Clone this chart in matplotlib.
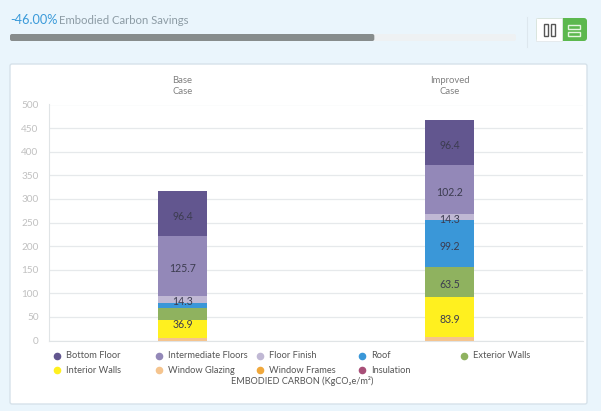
import matplotlib
matplotlib.use("Agg")
import matplotlib.pyplot as plt
from matplotlib.patches import Rectangle, FancyBboxPatch

plt.rcParams["font.family"] = ["Lato", "DejaVu Sans"]

W, H = 601, 411

cases = ["Base\nCase", "Improved\nCase"]
materials = ["Window Glazing", "Window Frames", "Insulation", "Interior Walls", "Exterior Walls",
             "Roof", "Floor Finish", "Intermediate Floors", "Bottom Floor"]
base_values = [6, 0, 0, 36.9, 25.5, 12, 14.3, 125.7, 96.4]
improved_values = [8, 0, 0, 83.9, 63.5, 99.2, 14.3, 102.2, 96.4]
base_labels = [None, None, None, "36.9", None, None, "14.3", "125.7", "96.4"]
improved_labels = [None, None, None, "83.9", "63.5", "99.2", "14.3", "102.2", "96.4"]
colors = {
    "Bottom Floor": "#62568f",
    "Intermediate Floors": "#9388b8",
    "Floor Finish": "#c0b8d4",
    "Roof": "#3a97d8",
    "Exterior Walls": "#8fb25f",
    "Interior Walls": "#fff01f",
    "Window Glazing": "#f5c48e",
    "Window Frames": "#f0a83c",
    "Insulation": "#a84f78",
}
legend_order = ["Bottom Floor", "Intermediate Floors", "Floor Finish", "Roof", "Exterior Walls",
                "Interior Walls", "Window Glazing", "Window Frames", "Insulation"]
y_ticks = [0, 50, 100, 150, 200, 250, 300, 350, 400, 450, 500]
savings_text = "-46.00%"
savings_fill = 0.72

fig = plt.figure(figsize=(W / 100, H / 100), dpi=100, facecolor="#eaf5fc")

# page furniture, in pixel coordinates
bg = fig.add_axes([0, 0, 1, 1])
bg.set_xlim(0, W)
bg.set_ylim(H, 0)
bg.axis("off")


def rounded(x, y, w, h, r=2, **kw):
    bg.add_patch(FancyBboxPatch((x, y), w, h, boxstyle=f"round,pad=0,rounding_size={r}", **kw))


rounded(10, 64, 577, 340, fc="white", ec="#d6e2ea", lw=1)
bg.text(10, 20.5, savings_text, color="#3a9ad9", fontsize=9.2, va="center")
bg.text(59, 21, "Embodied Carbon Savings", color="#8d9ca5", fontsize=8.2, va="center")
rounded(10, 34, 506, 7, fc="#eef1f3", ec="none")
rounded(10, 34, 506 * savings_fill, 7, fc="#878c8c", ec="none")
bg.plot([526.5, 526.5], [17, 47], color="#dde7ee", lw=0.8)

# view toggle
rounded(536, 18, 51, 23, r=3, fc="#5cb84e", ec="none")
bg.add_patch(Rectangle((536, 18), 26, 23, fc="white", ec="#e3e8ea", lw=0.6))
for x in (543.5, 550.5):
    bg.add_patch(Rectangle((x, 24.5), 4.5, 12, fc="none", ec="#555555", lw=1))
for y in (25, 32):
    bg.add_patch(Rectangle((568, y), 12, 4, fc="none", ec="#e4f5df", lw=1))

# chart
ax = fig.add_axes([49 / W, 1 - 340.5 / H, (583 - 49) / W, (340.5 - 104.5) / H])
ax.set_facecolor("none")
bottoms = [0, 0]
for i, name in enumerate(materials):
    vals = [base_values[i], improved_values[i]]
    labs = [base_labels[i], improved_labels[i]]
    ax.bar([0, 1], vals, width=0.183, bottom=bottoms, color=colors[name], zorder=3)
    for j in range(2):
        if labs[j]:
            # the 36.9 label sits high in its segment in the original
            dy = 3 if labs[j] == "36.9" else -2
            ax.annotate(labs[j], (j, bottoms[j] + vals[j] / 2), xytext=(0, dy), textcoords="offset points",
                        ha="center", va="center", fontsize=7.6, color="#3c3c50", zorder=4)
        bottoms[j] += vals[j]

ax.set_xlim(-0.5, 1.5)
ax.set_ylim(0, 500)
ax.set_yticks(y_ticks)
ax.set_xticks([0, 1])
ax.set_xticklabels(cases, fontsize=6.8, color="#808080", linespacing=1.3)
ax.xaxis.tick_top()
ax.tick_params(axis="x", length=0, pad=6)
ax.tick_params(axis="y", length=0, pad=7.5, labelsize=7.2, labelcolor="#c0c0c0")
ax.grid(axis="y", color="#e6e9eb", lw=0.9, zorder=0)
for s in ("top", "right"):
    ax.spines[s].set_visible(False)
for s in ("left", "bottom"):
    ax.spines[s].set_color("#e0e4e6")

# legend, filled row by row
for i, name in enumerate(legend_order):
    col, row = i % 5, i // 5
    lx = 57 + col * 101.7
    ly = 355.5 + row * 14.7
    bg.scatter([lx], [ly], s=20, color=colors[name], zorder=5)
    bg.text(lx + 9, ly, name, fontsize=6.65, color="#555555", va="center")
bg.text(302.5, 381, "EMBODIED CARBON (KgCO₂e/m²)", fontsize=6.6, color="#555555", ha="center", va="center")

fig.savefig("out.png", dpi=100, facecolor=fig.get_facecolor())
